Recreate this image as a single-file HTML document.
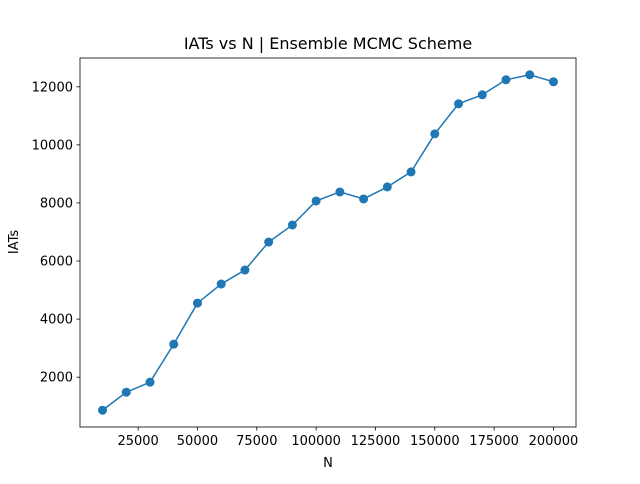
<!DOCTYPE html>
<html><head><meta charset="utf-8"><style>
body{margin:0;background:#fff;font-family:"DejaVu Sans","Liberation Sans",sans-serif;}
svg text{font-family:"DejaVu Sans","Liberation Sans",sans-serif;fill:#000;}
</style></head><body>
<svg id="chart" width="640" height="480" xmlns="http://www.w3.org/2000/svg">
<rect width="640" height="480" fill="#fff"/>
<text x="328" y="49" font-size="16" text-anchor="middle">IATs vs N | Ensemble MCMC Scheme</text>
<text x="328" y="467" font-size="13" text-anchor="middle">N</text>
<text x="18" y="242" font-size="13" text-anchor="middle" transform="rotate(-90 18 242)">IATs</text>
<g id="ticks"></g>
<g id="series"></g>
<rect x="80" y="58" width="496" height="369" fill="none" stroke="#000" stroke-width="0.8"/>
</svg>
<script>
const nValues=[10000,20000,30000,40000,50000,60000,70000,80000,90000,100000,110000,120000,130000,140000,150000,160000,170000,180000,190000,200000];
const iatValues=[862,1483,1828,3138,4552,5207,5690,6655,7241,8069,8379,8138,8552,9069,10379,11414,11724,12241,12414,12172];
const xTicks=[25000,50000,75000,100000,125000,150000,175000,200000];
const yTicks=[2000,4000,6000,8000,10000,12000];
const NS="http://www.w3.org/2000/svg";
const L=80,R=576,T=58,B=427;
const xmin=Math.min(...nValues),xmax=Math.max(...nValues),xp=(xmax-xmin)*0.05;
const ymin=Math.min(...iatValues),ymax=Math.max(...iatValues),yp=(ymax-ymin)*0.05;
const sx=v=>L+(v-(xmin-xp))/((xmax+xp)-(xmin-xp))*(R-L);
const sy=v=>B-(v-(ymin-yp))/((ymax+yp)-(ymin-yp))*(B-T);
function mk(tag,attrs,parent){const e=document.createElementNS(NS,tag);for(const k in attrs)e.setAttribute(k,attrs[k]);parent.appendChild(e);return e;}
const tg=document.getElementById('ticks');
xTicks.forEach(t=>{const x=sx(t);
 const l=mk('line',{x1:x,x2:x,y1:B,y2:B+3.5,stroke:'#000','stroke-width':0.8},tg);
 
 
 const tx=mk('text',{x:x,y:B+18,'font-size':13,'text-anchor':'middle'},tg);tx.textContent=t;
 
 });
yTicks.forEach(t=>{const y=sy(t);
 const l=mk('line',{x1:L-3.5,x2:L,y1:y,y2:y,stroke:'#000','stroke-width':0.8},tg);
 
 
 const tx=mk('text',{x:L-7,y:y+4.5,'font-size':13,'text-anchor':'end'},tg);tx.textContent=t;
 
 });
const sg=document.getElementById('series');
const pts=nValues.map((n,i)=>sx(n)+','+sy(iatValues[i])).join(' ');
const pl=mk('polyline',{points:pts,fill:'none',stroke:'#1f77b4','stroke-width':1.5},sg);


nValues.forEach((n,i)=>{const c=mk('circle',{cx:sx(n),cy:sy(iatValues[i]),r:4.5,fill:'#1f77b4'},sg);
 
 });
</script>
</body></html>
